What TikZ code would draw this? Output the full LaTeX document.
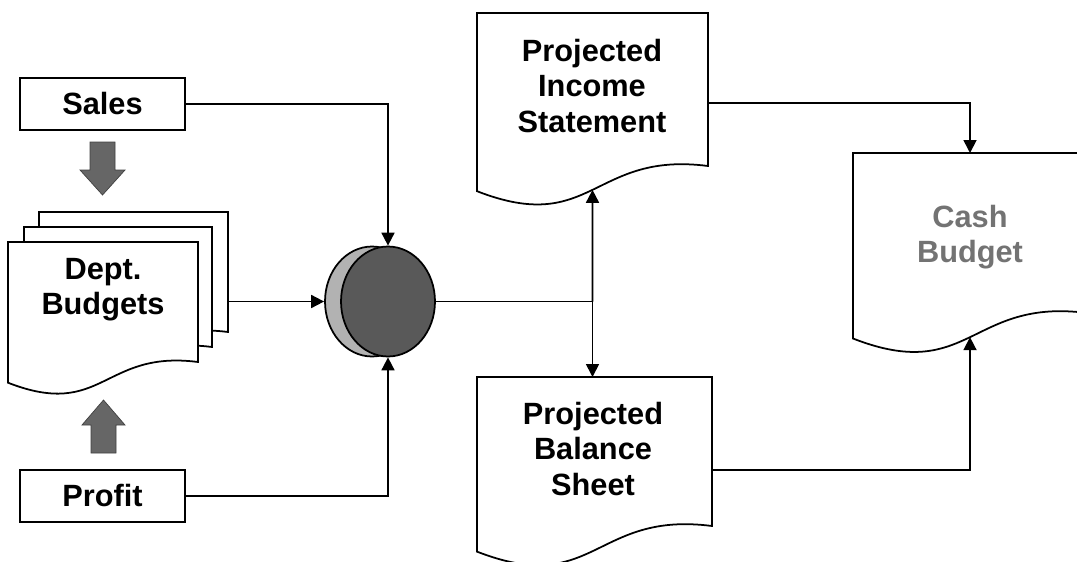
\documentclass[tikz,border=0pt]{standalone}
\usepackage{fontspec}
\setmainfont{Liberation Sans}
\usepackage{tikz}
\usetikzlibrary{shapes.geometric,arrows.meta,calc}

\tikzset{
  lbl/.style={font=\bfseries\fontsize{17.5}{20}\selectfont, align=center},
  inbox/.style={draw, line width=1pt, lbl, minimum width=3.3cm, minimum height=1.04cm, inner sep=0pt},
  docline/.style={draw, fill=white, line width=1pt},
  blockarr/.style={fill=black!60, draw=black!75, line width=0.4pt},
  conn/.style={line width=1pt},
  disc/.style={ellipse, draw, conn, minimum width=1.88cm, minimum height=2.2cm},
}

% document shape: left, top, right, bottom (right side), name of wave midpoint
\newcommand{\docshape}[5]{%
  \path[docline] (#1,#2) -- (#3,#2) -- (#3,#4)
    .. controls ({#1+0.5*(#3-#1)},{#4-0.065*(#3-#1)}) and ({#1+0.5*(#3-#1)},{#4+0.304*(#3-#1)})
    .. (#1,{#4+0.109*(#3-#1)}) coordinate[pos=0.5] (#5) -- cycle;}

\begin{document}
\begin{tikzpicture}[x=0.02cm, y=-0.02cm, >={Triangle[length=2.6mm,width=2.6mm]}]
    \useasboundingbox (0,0) rectangle (1077,561);
    \clip (0,0) rectangle (1077,561);

    % inputs
    \node[inbox] (sales)  at (102.5,104) {Sales};
    \node[inbox] (profit) at (102.5,496) {Profit};

    % stacked dept budgets
    \docshape{39}{212}{228}{332}{d3}
    \docshape{24}{227}{212}{347}{d2}
    \docshape{8}{242}{198}{362}{d1}
    \node[lbl] (dept) at (103,290) {Dept.\\Budgets};
    \coordinate (deptout) at (228,301.5);

    % block arrows
    \path[blockarr] (90,142) -- (115,142) -- (115,170) -- (125,170) -- (102.5,195) -- (80,170) -- (90,170) -- cycle;
    \path[blockarr] (91,453) -- (116,453) -- (116,425) -- (125,425) -- (103.5,400) -- (82,425) -- (91,425) -- cycle;

    % merge disc
    \node[disc, fill=black!30] (discback) at (372,301.5) {};
    \node[disc, fill=black!65] (disc) at (388,301.5) {};

    % projected statements
    \docshape{477}{13}{708}{166}{incw}
    \node[lbl] (inc) at (592,86) {Projected\\Income\\Statement};
    \docshape{477}{377}{712}{526}{balw}
    \node[lbl] (bal) at (593,449) {Projected\\Balance\\Sheet};
    \docshape{853}{153}{1087}{313}{cashw}
    \node[lbl, text=black!55] (cash) at (970,237) {Cash\\Budget};

    \coordinate (split)   at (592.5,301.5);
    \coordinate (baltop)  at (592.5,377);
    \coordinate (incout)  at (708,103);
    \coordinate (cashtop) at (970,153);
    \coordinate (balout)  at (712,470);

    \draw[conn,->] (sales.east) -| (disc.north);
    \draw[conn,->] (profit.east) -| (disc.south);
    \draw[conn,->] (deptout) -- (discback.west);
    \draw[conn] (disc.east) -- (split);
    \draw[conn,->] (split) -- (incw);
    \draw[conn,->] (split) -- (baltop);
    \draw[conn,->] (incout) -| (cashtop);
    \draw[conn,->] (balout) -| (cashw);
\end{tikzpicture}
\end{document}
